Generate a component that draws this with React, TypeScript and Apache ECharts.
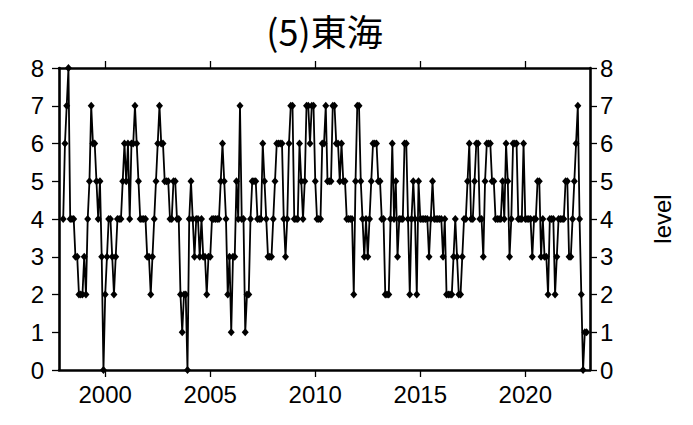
import React, { useEffect, useRef } from "react";
import * as echarts from "echarts";

// Monthly levels, Jan of the first year through Dec of the last year
const startYear = 1998;
const levels1998to2002 = [
  4, 6, 7, 8, 4, 4, 4, 3, 3, 2, 2, 2,
  3, 2, 4, 5, 7, 6, 6, 5, 4, 5, 3, 0,
  2, 3, 4, 4, 3, 2, 3, 4, 4, 4, 5, 6,
  5, 6, 4, 6, 6, 7, 6, 5, 4, 4, 4, 4,
  3, 3, 2, 3, 4, 5, 6, 7, 6, 6, 5, 5,
];
const levels2003to2007 = [
  5, 4, 4, 5, 5, 4, 4, 2, 1, 2, 2, 0,
  4, 5, 4, 3, 4, 4, 3, 4, 3, 3, 2, 3,
  3, 4, 4, 4, 4, 4, 5, 6, 5, 4, 2, 3,
  1, 3, 3, 5, 4, 7, 4, 4, 1, 2, 2, 4,
  5, 5, 5, 4, 4, 4, 6, 5, 4, 3, 3, 3,
];
const levels2008to2012 = [
  4, 5, 6, 6, 6, 6, 4, 3, 4, 6, 7, 7,
  4, 4, 4, 6, 5, 4, 5, 7, 7, 6, 7, 7,
  5, 4, 4, 4, 6, 6, 7, 5, 5, 5, 7, 7,
  6, 6, 5, 6, 5, 5, 4, 4, 4, 4, 2, 5,
  7, 7, 5, 4, 3, 4, 3, 4, 5, 6, 6, 6,
];
const levels2013to2017 = [
  5, 5, 4, 4, 2, 2, 2, 4, 6, 4, 5, 3,
  4, 4, 4, 6, 6, 4, 2, 4, 5, 4, 2, 5,
  4, 4, 4, 4, 4, 3, 4, 5, 4, 4, 4, 4,
  4, 3, 4, 2, 2, 2, 2, 3, 4, 3, 2, 2,
  3, 4, 4, 5, 6, 4, 4, 5, 6, 6, 4, 4,
];
const levels2018to2022 = [
  3, 5, 6, 6, 6, 5, 5, 4, 4, 4, 4, 5,
  4, 6, 5, 3, 4, 6, 6, 6, 4, 4, 4, 6,
  4, 4, 4, 4, 3, 4, 4, 5, 5, 3, 4, 3,
  3, 2, 4, 4, 4, 2, 3, 4, 4, 4, 4, 5,
  5, 3, 3, 4, 5, 6, 7, 4, 2, 0, 1, 1,
];

const xTickYears = [2000, 2005, 2010, 2015, 2020];
const yMin = 0;
const yMax = 8;
const titleText = "(5)東海";
const yAxisName = "level";

const LABEL_FONT = "'Liberation Sans', Arial, Helvetica, sans-serif";
const TITLE_FONT = "'Noto Sans CJK JP', sans-serif";

export default function App() {
  const ref = useRef<HTMLDivElement>(null);

  useEffect(() => {
    if (!ref.current) return;
    const chart = echarts.init(ref.current, undefined, { renderer: "svg" });

    const all = [
      ...levels1998to2002,
      ...levels2003to2007,
      ...levels2008to2012,
      ...levels2013to2017,
      ...levels2018to2022,
    ];
    const data = all.map((v, i) => [startYear + i / 12, v]);

    const xMin = 1997.8;
    const xMax = 2023.08;

    const axisLine = { show: true, onZero: false, lineStyle: { color: "#000", width: 2.6 } };
    const tickStyle = { color: "#000", width: 1.3 };
    const labelStyle = { fontSize: 24, color: "#000", fontFamily: LABEL_FONT };

    chart.setOption({
      animation: false,
      backgroundColor: "#fff",
      grid: { left: 59, right: 103, top: 68, bottom: 55, containLabel: false },
      graphic: [
        {
          type: "text",
          x: 324.5,
          y: 30,
          style: {
            text: titleText,
            fontSize: 36,
            fontFamily: TITLE_FONT,
            fill: "#000",
            textAlign: "center",
            textVerticalAlign: "middle",
          },
        },
      ],
      xAxis: [
        {
          type: "value",
          position: "bottom",
          min: xMin,
          max: xMax,
          axisLine,
          axisTick: { show: true, inside: false, length: 7, customValues: xTickYears, lineStyle: tickStyle },
          axisLabel: {
            ...labelStyle,
            margin: 12,
            customValues: xTickYears,
            formatter: (v: number) => String(Math.round(v)),
          },
          splitLine: { show: false },
        },
        {
          type: "value",
          position: "top",
          min: xMin,
          max: xMax,
          axisLine,
          axisTick: { show: true, inside: false, length: 7, customValues: xTickYears, lineStyle: tickStyle },
          axisLabel: { show: false },
          splitLine: { show: false },
        },
      ],
      yAxis: [
        {
          type: "value",
          position: "left",
          min: yMin,
          max: yMax,
          interval: 1,
          axisLine,
          axisTick: { show: true, inside: false, length: 7, lineStyle: tickStyle },
          axisLabel: { ...labelStyle, margin: 15 },
          splitLine: { show: false },
        },
        {
          type: "value",
          position: "right",
          min: yMin,
          max: yMax,
          interval: 1,
          name: yAxisName,
          nameLocation: "middle",
          nameRotate: 90,
          nameGap: 60,
          nameTextStyle: { fontSize: 24, color: "#000", fontFamily: LABEL_FONT },
          axisLine,
          axisTick: { show: true, inside: false, length: 7, lineStyle: tickStyle },
          axisLabel: { ...labelStyle, margin: 10 },
          splitLine: { show: false },
        },
      ],
      series: [
        {
          type: "line",
          xAxisIndex: 0,
          yAxisIndex: 0,
          data,
          symbol: "diamond",
          symbolSize: [7, 8],
          showSymbol: true,
          showAllSymbol: true,
          itemStyle: { color: "#000" },
          lineStyle: { color: "#000", width: 1.8 },
          z: 1,
        },
      ],
    });

    return () => chart.dispose();
  }, []);

  return (
    <div
      ref={ref}
      style={{ position: "fixed", left: 0, top: 0, width: 693, height: 425, background: "#fff" }}
    />
  );
}
